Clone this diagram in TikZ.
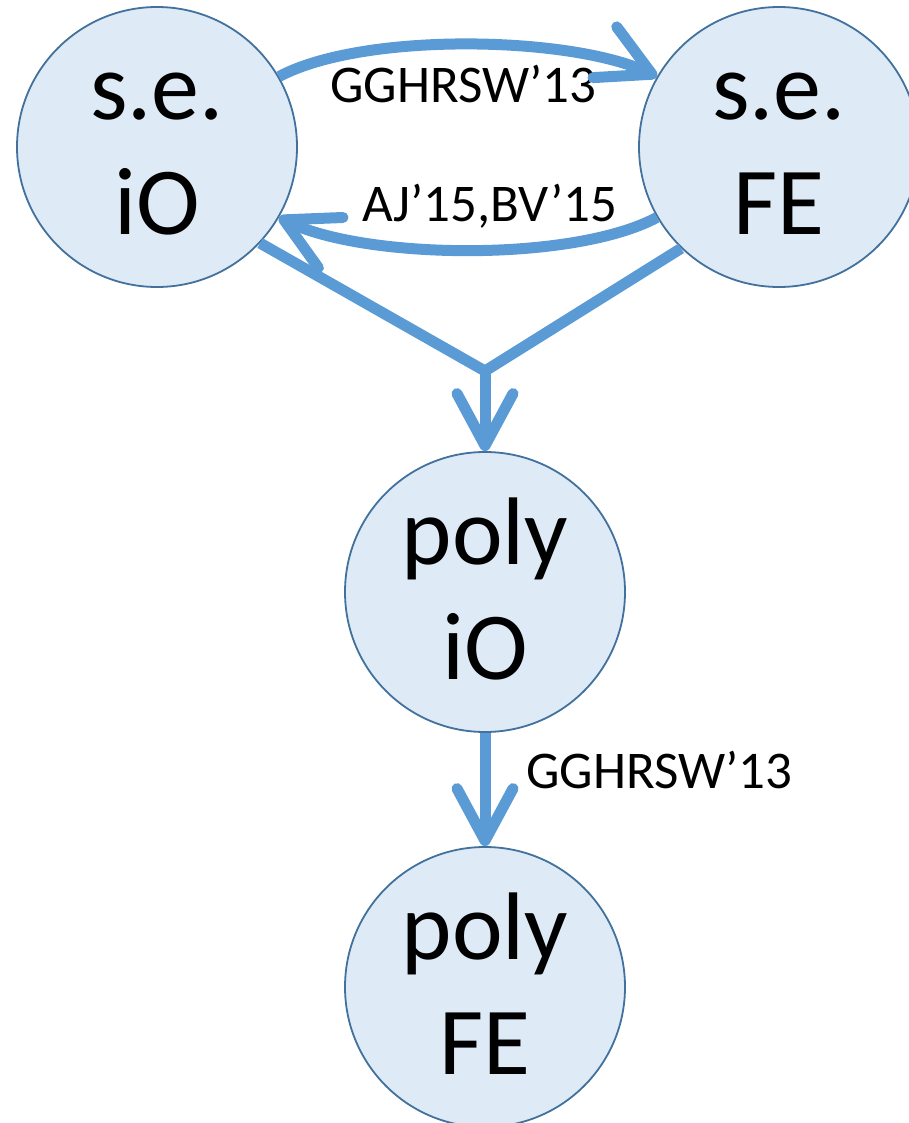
\documentclass[tikz,border=0pt]{standalone}
\usepackage{fontspec}
\setmainfont{Carlito}
\usetikzlibrary{arrows.meta}
\definecolor{nodefill}{HTML}{DEEBF7}
\definecolor{nodeline}{HTML}{41719C}
\definecolor{flow}{HTML}{5B9BD5}

\begin{document}
\begin{tikzpicture}[x=1pt,y=1pt,
  state/.style={circle, draw=nodeline, line width=1.8pt, fill=nodefill,
    minimum size=280pt, inner sep=0pt, align=center,
    font=\fontsize{96}{115}\selectfont, text height=185pt, text depth=11pt},
  flowline/.style={draw=flow, line width=11pt},
  barb/.style={-{Straight Barb[length=52pt,width=56pt,round]}},
  ref/.style={font=\fontsize{53}{63}\selectfont, inner sep=0pt, anchor=base west}
]
\useasboundingbox (0,0) rectangle (909,-1123);
\clip (0,0) rectangle (909,-1123);

% the four schemes
\node[state] (seio)   at (157,-147) {s.e.\\iO};
\node[state] (sefe)   at (779,-147) {s.e.\\FE};
\node[state] (polyio) at (485,-592) {poly\\iO};
\node[state] (polyfe) at (485,-987) {poly\\FE};
\coordinate (join) at (485,-371);

% references on the implications
\node[ref] (ref1) at (330,-103) {GGHRSW’13};
\node[ref] (ref2) at (362,-222) {AJ’15,BV’15};
\node[ref] (ref3) at (526,-788) {GGHRSW’13};

% implications
\draw[flowline, barb] (seio.30) to[out=28,in=155,looseness=0.65] (sefe.150);
\draw[flowline, barb] (sefe.210) to[out=208,in=-26,looseness=0.65] (seio.330);
\draw[flowline, line join=miter] (seio.-43) -- (join) -- (sefe.226);
\draw[flowline, barb] (join) -- (polyio);
\draw[flowline, barb] (polyio) -- (polyfe);
\end{tikzpicture}
\end{document}
